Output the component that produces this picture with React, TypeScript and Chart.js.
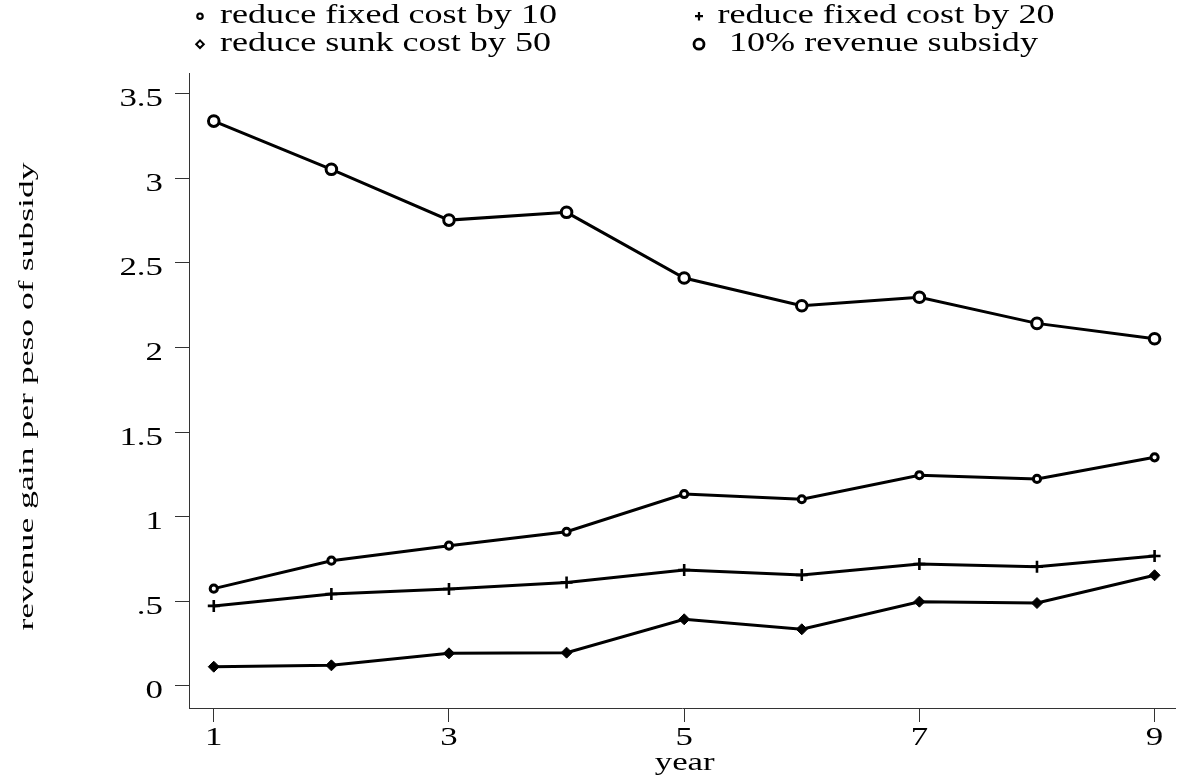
import React, { useEffect, useRef } from 'react';
import { Chart, registerables } from 'chart.js';

Chart.register(...registerables);

const years = [1, 2, 3, 4, 5, 6, 7, 8, 9];
const fixedCost10 = [0.575, 0.74, 0.829, 0.911, 1.134, 1.103, 1.245, 1.223, 1.351];
const fixedCost20 = [0.473, 0.543, 0.573, 0.612, 0.685, 0.656, 0.721, 0.705, 0.768];
const sunkCost50 = [0.114, 0.122, 0.193, 0.197, 0.394, 0.335, 0.498, 0.49, 0.654];
const revenueSubsidy10 = [3.337, 3.052, 2.752, 2.798, 2.41, 2.246, 2.296, 2.142, 2.051];

const yTickValues = [0, 0.5, 1, 1.5, 2, 2.5, 3, 3.5];
const yTickLabels = ['0', '.5', '1', '1.5', '2', '2.5', '3', '3.5'];
const xTickValues = [1, 3, 5, 7, 9];
const xTickLabels = ['1', '3', '5', '7', '9'];
const legendLabels = [
  'reduce fixed cost by 10',
  'reduce fixed cost by 20',
  'reduce sunk cost by 50',
  '10% revenue subsidy',
];
const yTitle = 'revenue gain per peso of subsidy';
const xTitle = 'year';

const FONT = '"Liberation Serif", "Times New Roman", serif';

function drawText(ctx: CanvasRenderingContext2D, text: string, x: number, y: number, size: number, hScale: number, align: CanvasTextAlign) {
  ctx.save();
  ctx.font = `${size}px ${FONT}`;
  ctx.translate(x, y);
  ctx.scale(hScale, 1);
  ctx.textAlign = align;
  ctx.textBaseline = 'alphabetic';
  ctx.fillStyle = '#000';
  ctx.fillText(text, 0, 0);
  ctx.restore();
}

function drawLegendMarker(ctx: CanvasRenderingContext2D, kind: string, x: number, y: number) {
  ctx.save();
  ctx.strokeStyle = '#000';
  ctx.fillStyle = '#fff';
  ctx.beginPath();
  if (kind === 'smallCircle') {
    ctx.lineWidth = 2.2;
    ctx.arc(x, y, 2.7, 0, Math.PI * 2);
    ctx.fill();
    ctx.stroke();
  } else if (kind === 'plus') {
    ctx.lineWidth = 2.2;
    ctx.moveTo(x - 4, y);
    ctx.lineTo(x + 4, y);
    ctx.moveTo(x, y - 4.2);
    ctx.lineTo(x, y + 4.2);
    ctx.stroke();
  } else if (kind === 'diamond') {
    ctx.lineWidth = 2;
    ctx.moveTo(x, y - 3.8);
    ctx.lineTo(x + 3.8, y);
    ctx.lineTo(x, y + 3.8);
    ctx.lineTo(x - 3.8, y);
    ctx.closePath();
    ctx.fill();
    ctx.stroke();
  } else {
    ctx.lineWidth = 2.8;
    ctx.arc(x, y, 5, 0, Math.PI * 2);
    ctx.fill();
    ctx.stroke();
  }
  ctx.restore();
}

const textPlugin = {
  id: 'textPlugin',
  afterDraw(chart: any) {
    const ctx = chart.ctx as CanvasRenderingContext2D;
    const xs = chart.scales.x;
    const ys = chart.scales.y;
    yTickValues.forEach((v, i) => {
      drawText(ctx, yTickLabels[i], 163, ys.getPixelForValue(v) + 12.5, 26, 1.34, 'right');
    });
    xTickValues.forEach((v, i) => {
      drawText(ctx, xTickLabels[i], xs.getPixelForValue(v), 745, 26, 1.34, 'center');
    });
    const ca = chart.chartArea;
    drawText(ctx, xTitle, (ca.left + ca.right) / 2 + 2.5, 770, 26, 1.34, 'center');

    ctx.save();
    ctx.translate(32.5, (ca.top + ca.bottom) / 2 + 6);
    ctx.rotate(-Math.PI / 2);
    ctx.scale(1.62, 1);
    ctx.font = `22px ${FONT}`;
    ctx.textAlign = 'center';
    ctx.textBaseline = 'alphabetic';
    ctx.fillStyle = '#000';
    ctx.fillText(yTitle, 0, 0);
    ctx.restore();

    // legend: two columns, two rows
    const kinds = ['smallCircle', 'plus', 'diamond', 'bigCircle'];
    const markerX = [200, 699, 200, 699];
    const textX = [220, 717.5, 220, 729];
    const rowIdx = [0, 0, 1, 1];
    legendLabels.forEach((label, i) => {
      const base = rowIdx[i] === 0 ? 22.7 : 50.7;
      drawLegendMarker(ctx, kinds[i], markerX[i], base - 6.5);
      drawText(ctx, label, textX[i], base, 28, 1.29, 'left');
    });
  },
};

function series(values: number[]) {
  return years.map((x, i) => ({ x, y: values[i] }));
}

export default function App() {
  const canvasRef = useRef<HTMLCanvasElement | null>(null);

  useEffect(() => {
    if (!canvasRef.current) return;
    const axisCommon = {
      type: 'linear' as const,
      ticks: { display: false },
      grid: { drawOnChartArea: false, drawTicks: true, tickLength: 14, color: '#333', lineWidth: 1 },
      border: { display: true, color: '#333', width: 1 },
    };
    const chart = new Chart(canvasRef.current, {
      type: 'line',
      data: {
        datasets: [
          {
            label: legendLabels[0],
            data: series(fixedCost10),
            borderColor: '#000',
            borderWidth: 3,
            pointStyle: 'circle',
            pointRadius: 3.6,
            pointBorderWidth: 3,
            pointBackgroundColor: '#fff',
            pointBorderColor: '#000',
            tension: 0,
          },
          {
            label: legendLabels[1],
            data: series(fixedCost20),
            borderColor: '#000',
            borderWidth: 3,
            pointStyle: 'cross',
            pointRadius: 6,
            pointBorderWidth: 2.6,
            pointBorderColor: '#000',
            tension: 0,
          },
          {
            label: legendLabels[2],
            data: series(sunkCost50),
            borderColor: '#000',
            borderWidth: 3,
            pointStyle: 'rectRot',
            pointRadius: 5.5,
            pointBorderWidth: 1,
            pointBackgroundColor: '#000',
            pointBorderColor: '#000',
            tension: 0,
          },
          {
            label: legendLabels[3],
            data: series(revenueSubsidy10),
            borderColor: '#000',
            borderWidth: 3,
            pointStyle: 'circle',
            pointRadius: 5.3,
            pointBorderWidth: 3,
            pointBackgroundColor: '#fff',
            pointBorderColor: '#000',
            tension: 0,
          },
        ],
      },
      options: {
        responsive: false,
        animation: false,
        devicePixelRatio: 1,
        layout: { padding: { top: 73, left: 0, right: 0, bottom: 0 } },
        plugins: { legend: { display: false }, tooltip: { enabled: false } },
        scales: {
          x: {
            ...axisCommon,
            min: 0.7893,
            max: 9.177,
            afterBuildTicks: (s: any) => {
              s.ticks = xTickValues.map((value) => ({ value }));
            },
            afterFit: (s: any) => {
              s.height = 76;
            },
          },
          y: {
            ...axisCommon,
            min: -0.13,
            max: 3.621,
            afterBuildTicks: (s: any) => {
              s.ticks = yTickValues.map((value) => ({ value }));
            },
            afterFit: (s: any) => {
              s.width = 189;
            },
          },
        },
      } as any,
      plugins: [textPlugin],
    });
    return () => chart.destroy();
  }, []);

  return (
    <div style={{ position: 'fixed', left: 0, top: 0, width: 1184, height: 784, background: '#fff' }}>
      <canvas ref={canvasRef} width={1184} height={784} style={{ display: 'block' }} />
    </div>
  );
}
